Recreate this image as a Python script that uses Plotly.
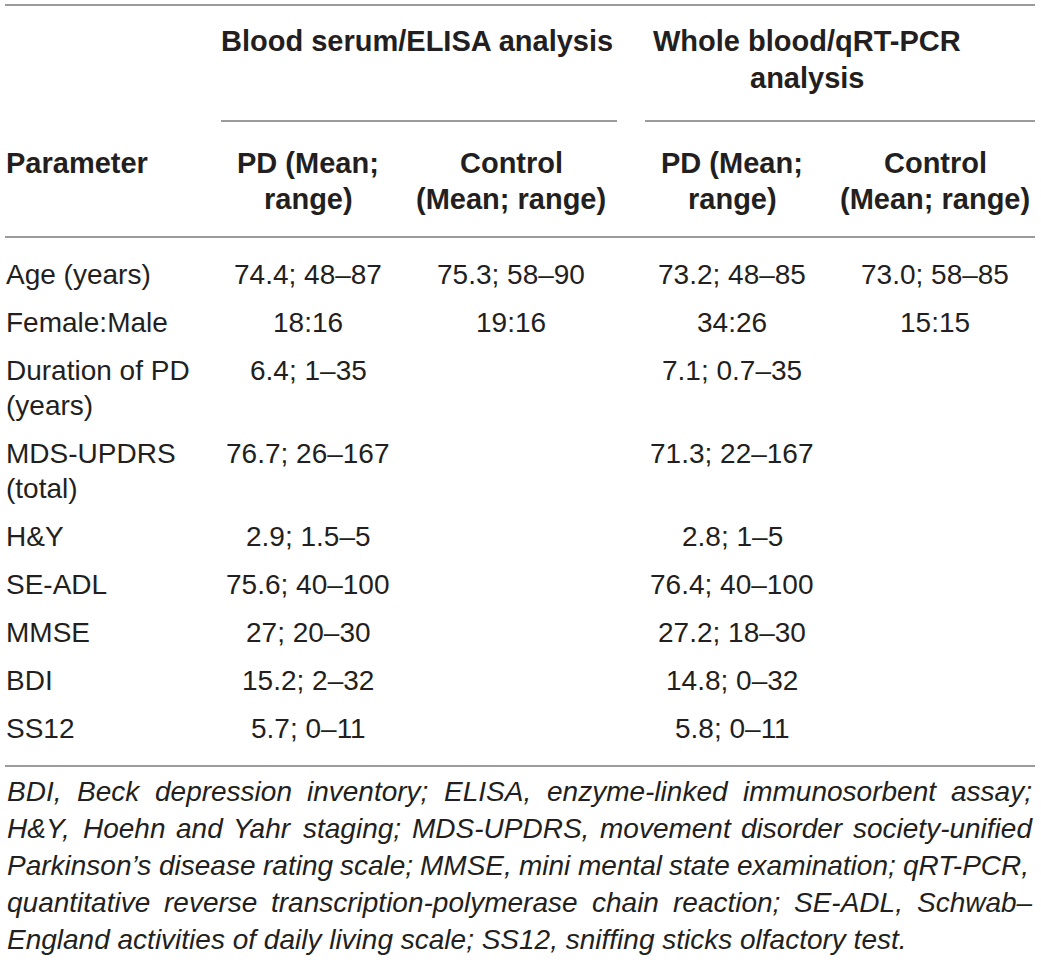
import plotly.graph_objects as go

# table content
group_headers = ["Blood serum/ELISA analysis", "Whole blood/qRT-PCR\nanalysis"]
col_headers = ["Parameter", "PD (Mean;\nrange)", "Control\n(Mean; range)", "PD (Mean;\nrange)", "Control\n(Mean; range)"]

parameters = ["Age (years)", "Female:Male", "Duration of PD\n(years)", "MDS-UPDRS\n(total)",
              "H&Y", "SE-ADL", "MMSE", "BDI", "SS12"]
serum_pd = ["74.4; 48–87", "18:16", "6.4; 1–35", "76.7; 26–167", "2.9; 1.5–5",
            "75.6; 40–100", "27; 20–30", "15.2; 2–32", "5.7; 0–11"]
serum_control = ["75.3; 58–90", "19:16", "", "", "", "", "", "", ""]
blood_pd = ["73.2; 48–85", "34:26", "7.1; 0.7–35", "71.3; 22–167", "2.8; 1–5",
            "76.4; 40–100", "27.2; 18–30", "14.8; 0–32", "5.8; 0–11"]
blood_control = ["73.0; 58–85", "15:15", "", "", "", "", "", "", ""]

footnote = [
    "BDI, Beck depression inventory; ELISA, enzyme-linked immunosorbent assay;",
    "H&Y, Hoehn and Yahr staging; MDS-UPDRS, movement disorder society-unified",
    "Parkinson’s disease rating scale; MMSE, mini mental state examination; qRT-PCR,",
    "quantitative reverse transcription-polymerase chain reaction; SE-ADL, Schwab–",
    "England activities of daily living scale; SS12, sniffing sticks olfactory test.",
]

W, H = 1041, 964
TEXT = "#231f20"
RULE = "#9b9b9b"
BODY = 28
BOLD = 29
NOTE = 28
FONT = "Liberation Sans, Arial, sans-serif"

col_x = [6, 308, 511, 732, 935]
group_x = [417, 807]

# rough Arial / Liberation Sans advance widths (1/1000 em), used to justify the footnote
_w = dict(zip("abcdefghijklmnopqrstuvwxyz",
              [556, 556, 500, 556, 556, 278, 556, 556, 222, 222, 500, 222, 833,
               556, 556, 556, 556, 333, 500, 278, 556, 500, 722, 500, 500, 500]))
_w.update(zip("ABCDEFGHIJKLMNOPQRSTUVWXYZ",
              [667, 667, 722, 722, 667, 611, 778, 722, 278, 500, 667, 556, 833,
               722, 778, 667, 778, 722, 667, 611, 722, 667, 944, 667, 667, 611]))
_w.update({c: 556 for c in "0123456789"})
_w.update({",": 278, ".": 278, ";": 278, ":": 278, "-": 333, "–": 556, "’": 222, "&": 667,
           "(": 333, ")": 333, "/": 278, " ": 278})


def text_width(s, size):
    return sum(_w.get(c, 556) for c in s) * size / 1000.0


fig = go.Figure()
annotations = []


def put(text, x, baseline, size, anchor="center", bold=False, italic=False, step=35):
    # one annotation per line so line spacing is under control
    for k, line in enumerate(text.split("\n")):
        if not line:
            continue
        b = baseline + k * step
        annotations.append(dict(
            x=x, y=b - 0.35 * size, xref="x", yref="y",
            text=line, showarrow=False, xanchor=anchor, yanchor="middle",
            borderpad=0, borderwidth=0,
            font=dict(family=FONT, size=size, color=TEXT,
                      weight="bold" if bold else "normal",
                      style="italic" if italic else "normal"),
        ))


# group headers
for txt, gx in zip(group_headers, group_x):
    put(txt, gx, 51, BOLD, bold=True, step=37)

# column headers
for i, txt in enumerate(col_headers):
    put(txt, col_x[i], 173, BOLD, anchor="left" if i == 0 else "center", bold=True, step=36)

# body rows
columns = [parameters, serum_pd, serum_control, blood_pd, blood_control]
baseline = 284
for r in range(len(parameters)):
    for i, col in enumerate(columns):
        put(col[r], col_x[i], baseline, BODY, anchor="left" if i == 0 else "center")
    nlines = max(len(c[r].split("\n")) for c in columns)
    baseline += 48 + 35 * (nlines - 1)

# footnote, justified between x=7 and x=1032 except the last line
left, right = 7, 1032
for k, line in enumerate(footnote):
    b = 801 + k * 37
    if k == len(footnote) - 1:
        put(line, left, b, NOTE, anchor="left", italic=True)
        continue
    words = line.split(" ")
    widths = [text_width(wd, NOTE) for wd in words]
    gap = (right - left - sum(widths)) / (len(words) - 1)
    x = left
    for wd, ww in zip(words, widths):
        put(wd, x, b, NOTE, anchor="left", italic=True)
        x += ww + gap

# rules
shapes = []
for y0, xa, xb in [(5, 5, 1035), (121, 221, 617), (121, 645, 1035), (237, 5, 1035), (766, 5, 1035)]:
    shapes.append(dict(type="line", xref="x", yref="y", x0=xa, x1=xb, y0=y0, y1=y0,
                       line=dict(color=RULE, width=2)))

fig.update_layout(
    width=W, height=H,
    margin=dict(l=0, r=0, t=0, b=0),
    paper_bgcolor="white", plot_bgcolor="white",
    xaxis=dict(range=[0, W], visible=False, fixedrange=True),
    yaxis=dict(range=[H, 0], visible=False, fixedrange=True),
    annotations=annotations, shapes=shapes,
    showlegend=False,
)

# the page body has an 8px default margin, drop it so the figure sits at 0,0
fig.write_html("out.html", config={"displayModeBar": False},
               post_script="document.body.style.margin='0px';")
